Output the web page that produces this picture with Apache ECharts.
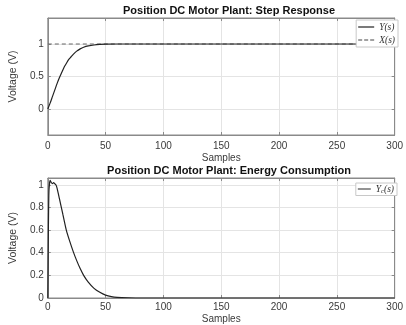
<!DOCTYPE html>
<html>
<head>
<meta charset="utf-8">
<script src="https://cdn.jsdelivr.net/npm/echarts@6/dist/echarts.min.js"></script>
<style>
  html, body { margin: 0; padding: 0; background: #fff; }
  #chart { width: 406px; height: 325px; }
</style>
</head>
<body>
<div id="chart"></div>
<script>
// step response (top)
const stepX = [0, 2, 4, 6, 8, 10, 12, 14, 16, 18, 20, 22, 25, 28, 31, 35, 40, 45, 50, 60, 80, 300]
const stepY = [0, 0.09, 0.19, 0.29, 0.39, 0.48, 0.56, 0.64, 0.7, 0.76, 0.8, 0.84, 0.89, 0.925, 0.95, 0.97, 0.985, 0.993, 0.997, 1, 1, 1]
const refX = [0, 300]
const refY = [1, 1]

// energy consumption (bottom)
const energyX = [0, 0.5, 1, 2, 3, 4, 5, 6, 7, 8, 10, 13, 16, 19, 22, 25, 28, 31, 35, 40, 45, 50, 55, 60, 70, 80, 300]
const energyY = [0, 0.6, 0.95, 1.04, 1.02, 1.01, 1.02, 1.01, 1.0, 0.97, 0.88, 0.74, 0.6, 0.5, 0.41, 0.33, 0.26, 0.2, 0.14, 0.085, 0.05, 0.025, 0.012, 0.006, 0.002, 0, 0]

const topYTicks = [0, 0.5, 1]
const botYTicks = [0, 0.2, 0.4, 0.6, 0.8, 1]

const pairs = (xs, ys) => xs.map((x, i) => [x, ys[i]])

const labelFont = '"Liberation Sans", Arial, sans-serif'
const textColor = '#3a3a3a'
const boxColor = '#8a8a8a'
const gridColor = '#e4e4e4'

const solidIcon = 'path://M0,0h16v1.2h-16z'
const dashIcon = 'path://M0,0h4v1.2h-4z M6,0h4v1.2h-4z M12,0h4v1.2h-4z'

const xAxisBase = (gridIndex, margin) => ({
  type: 'value',
  gridIndex,
  min: 0,
  max: 300,
  interval: 50,
  axisLine: { show: true, onZero: false, lineStyle: { color: boxColor, width: 1 } },
  axisTick: { inside: true, length: 3, lineStyle: { color: boxColor } },
  axisLabel: { color: textColor, fontFamily: labelFont, fontSize: 10, margin },
  splitLine: { show: true, lineStyle: { color: gridColor, width: 1 } },
  name: 'Samples',
  nameLocation: 'middle',
  nameGap: margin + 12,
  nameTextStyle: { color: textColor, fontFamily: labelFont, fontSize: 10 },
})

const xAxisTop = (gridIndex) => ({
  type: 'value',
  gridIndex,
  position: 'top',
  min: 0,
  max: 300,
  interval: 50,
  axisLine: { show: true, onZero: false, lineStyle: { color: boxColor, width: 1 } },
  axisTick: { inside: true, length: 3, lineStyle: { color: boxColor } },
  axisLabel: { show: false },
  splitLine: { show: false },
})

const yAxisBase = (gridIndex, min, max, ticks) => ({
  type: 'value',
  gridIndex,
  min,
  max,
  axisLine: { show: true, onZero: false, lineStyle: { color: boxColor, width: 1 } },
  axisTick: { inside: true, length: 3, customValues: ticks, lineStyle: { color: boxColor } },
  axisLabel: { color: textColor, fontFamily: labelFont, fontSize: 10, margin: 4, customValues: ticks },
  splitLine: { show: true, lineStyle: { color: gridColor, width: 1 } },
  name: 'Voltage (V)',
  nameLocation: 'middle',
  nameGap: 20,
  nameTextStyle: { color: textColor, fontFamily: labelFont, fontSize: 10.5 },
})

const yAxisRight = (gridIndex, min, max, ticks) => ({
  type: 'value',
  gridIndex,
  position: 'right',
  min,
  max,
  axisLine: { show: true, onZero: false, lineStyle: { color: boxColor, width: 1 } },
  axisTick: { inside: true, length: 3, customValues: ticks, lineStyle: { color: boxColor } },
  axisLabel: { show: false, customValues: ticks },
  splitLine: { show: false },
})

const serif = '"Liberation Serif", "DejaVu Serif", serif'
const legendText = {
  fontFamily: serif,
  fontStyle: 'italic',
  fontSize: 9.5,
  color: '#333',
  rich: {
    i: { fontFamily: serif, fontStyle: 'italic', fontSize: 9.5, color: '#333' },
    s: { fontFamily: serif, fontStyle: 'italic', fontSize: 6.5, color: '#333', verticalAlign: 'bottom', padding: [4, 0, 0, 0] },
  },
}

const chart = echarts.init(document.getElementById('chart'), null, { renderer: 'canvas' })

chart.setOption({
  animation: false,
  backgroundColor: '#fff',
  title: [
    {
      text: 'Position DC Motor Plant: Step Response',
      left: 224,
      top: 0,
      textAlign: 'center',
      textStyle: { fontFamily: labelFont, fontWeight: 'bold', fontSize: 11, color: '#111' },
    },
    {
      text: 'Position DC Motor Plant: Energy Consumption',
      left: 224,
      top: 160,
      textAlign: 'center',
      textStyle: { fontFamily: labelFont, fontWeight: 'bold', fontSize: 11, color: '#111' },
    },
  ],
  legend: [
    {
      data: [
        { name: 'Y(s)', icon: solidIcon },
        { name: 'X(s)', icon: dashIcon },
      ],
      orient: 'vertical',
      right: 8,
      top: 20,
      itemWidth: 16,
      itemHeight: 1.2,
      itemGap: 3,
      padding: [2, 3, 2, 2],
      backgroundColor: '#fff',
      borderColor: '#c8c8c8',
      borderWidth: 1,
      borderRadius: 0,
      textStyle: legendText,
    },
    {
      data: [{ name: 'Yc(s)', icon: solidIcon }],
      orient: 'vertical',
      right: 9,
      top: 183,
      itemWidth: 13,
      itemHeight: 1.2,
      padding: [1, 3, 1, 2],
      backgroundColor: '#fff',
      borderColor: '#c8c8c8',
      borderWidth: 1,
      borderRadius: 0,
      textStyle: legendText,
      formatter: () => '{i|Y}{s|c}{i|(s)}',
    },
  ],
  grid: [
    { left: 41, right: 5, top: 18, height: 117, show: true, borderColor: boxColor, borderWidth: 1 },
    { left: 41, right: 5, top: 178, height: 120, show: true, borderColor: boxColor, borderWidth: 1 },
  ],
  xAxis: [xAxisBase(0, 6), xAxisBase(1, 4), xAxisTop(0), xAxisTop(1)],
  yAxis: [
    yAxisBase(0, -0.4, 1.4, topYTicks),
    yAxisBase(1, 0, 1.06, botYTicks),
    yAxisRight(0, -0.4, 1.4, topYTicks),
    yAxisRight(1, 0, 1.06, botYTicks),
  ],
  series: [
    {
      name: 'X(s)',
      type: 'line',
      xAxisIndex: 0,
      yAxisIndex: 0,
      data: pairs(refX, refY),
      symbol: 'none',
      lineStyle: { color: '#666', width: 1, type: [4, 3] },
      itemStyle: { color: '#444' },
      z: 2,
    },
    {
      name: 'Y(s)',
      type: 'line',
      xAxisIndex: 0,
      yAxisIndex: 0,
      data: pairs(stepX, stepY),
      symbol: 'none',
      smooth: 0.3,
      lineStyle: { color: '#222', width: 1.2 },
      itemStyle: { color: '#222' },
      z: 3,
    },
    {
      name: 'Yc(s)',
      type: 'line',
      xAxisIndex: 1,
      yAxisIndex: 1,
      data: pairs(energyX, energyY),
      symbol: 'none',
      smooth: 0.2,
      lineStyle: { color: '#222', width: 1.2 },
      itemStyle: { color: '#222' },
      z: 3,
    },
  ],
})
</script>
</body>
</html>
